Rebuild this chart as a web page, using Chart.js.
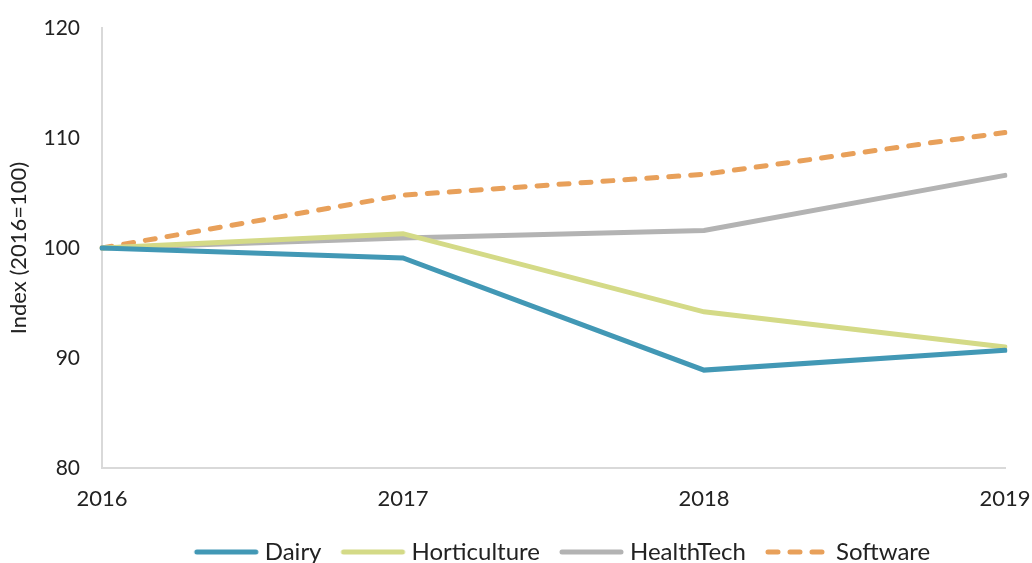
<!DOCTYPE html>
<html lang="en">
<head>
  <meta charset="UTF-8" />
  <title>Index (2016=100)</title>
  <script src="https://cdn.jsdelivr.net/npm/chart.js"></script>
  <style>
    html, body { margin: 0; padding: 0; background: #fff; }
    .wrap { width: 1032px; height: 563px; }
  </style>
</head>
<body>
  <div class="wrap">
    <canvas id="indexChart"></canvas>
  </div>

  <script>
    // data
    const years = ['2016', '2017', '2018', '2019'];
    const dairy = [100, 99.1, 88.9, 90.7];
    const horticulture = [100, 101.3, 94.2, 91.0];
    const healthTech = [100, 100.9, 101.6, 106.6];
    const software = [100, 104.8, 106.7, 110.5];
    const yTicks = [80, 90, 100, 110, 120];

    const FONT = 'Lato, "Open Sans", sans-serif';

    // legend swatch: a line, solid or dashed, with some room on the left
    function swatch(color, dashed) {
      const c = document.createElement('canvas');
      c.width = 96; c.height = 8;
      const g = c.getContext('2d');
      g.strokeStyle = color;
      g.lineWidth = 5;
      g.lineCap = 'round';
      if (dashed) g.setLineDash([10, 12]);
      g.beginPath();
      g.moveTo(30, 4);
      g.lineTo(89, 4);
      g.stroke();
      return c;
    }

    const series = [
      { label: 'Dairy', data: dairy, color: '#4298b5', dash: [] },
      { label: 'Horticulture', data: horticulture, color: '#d4da87', dash: [] },
      { label: 'HealthTech', data: healthTech, color: '#b3b3b3', dash: [] },
      { label: 'Software', data: software, color: '#e8a05a', dash: [10, 12] }
    ];

    new Chart(document.getElementById('indexChart'), {
      type: 'line',
      data: {
        labels: years,
        datasets: series.map(s => ({
          label: s.label,
          data: s.data,
          borderColor: s.color,
          backgroundColor: s.color,
          borderWidth: 5,
          borderDash: s.dash,
          borderCapStyle: 'round',
          pointRadius: 0,
          tension: 0,
          fill: false
        }))
      },
      options: {
        responsive: true,
        maintainAspectRatio: false,
        animation: false,
        layout: { padding: { top: 28, right: 0, left: 0, bottom: -11 } },
        plugins: {
          tooltip: { enabled: false },
          legend: {
            position: 'bottom',
            fullSize: false,
            labels: {
              font: { family: FONT, size: 24 },
              color: '#222',
              padding: 2,
              usePointStyle: true,
              pointStyleWidth: 76,
              generateLabels: chart => chart.data.datasets.map((ds, i) => ({
                text: ds.label,
                datasetIndex: i,
                pointStyle: swatch(ds.borderColor, ds.borderDash.length > 0),
                fontColor: '#222',
                lineWidth: 0,
                strokeStyle: 'transparent'
              }))
            }
          }
        },
        scales: {
          x: {
            offset: false,
            grid: { display: false, drawTicks: false },
            border: { display: true, color: '#d9d9d9', width: 2 },
            ticks: { font: { family: FONT, size: 22 }, color: '#222', padding: 18, maxRotation: 0 },
            afterFit: scale => {
              scale.height = 70;
              scale.paddingRight = 27;
              scale.paddingLeft = 0;
            }
          },
          y: {
            min: 80,
            max: 120,
            afterBuildTicks: scale => { scale.ticks = yTicks.map(v => ({ value: v })); },
            grid: { display: false, drawTicks: false },
            border: { display: true, color: '#d9d9d9', width: 2 },
            ticks: { font: { family: FONT, size: 21 }, color: '#222', padding: 22 },
            title: {
              display: true,
              text: 'Index (2016=100)',
              font: { family: FONT, size: 22 },
              color: '#222',
              padding: { top: 6, bottom: 0 }
            },
            afterFit: scale => {
              scale.width = 102;
              scale.paddingTop = 0;
              scale.paddingBottom = 0;
            }
          }
        }
      }
    });
  </script>
</body>
</html>
